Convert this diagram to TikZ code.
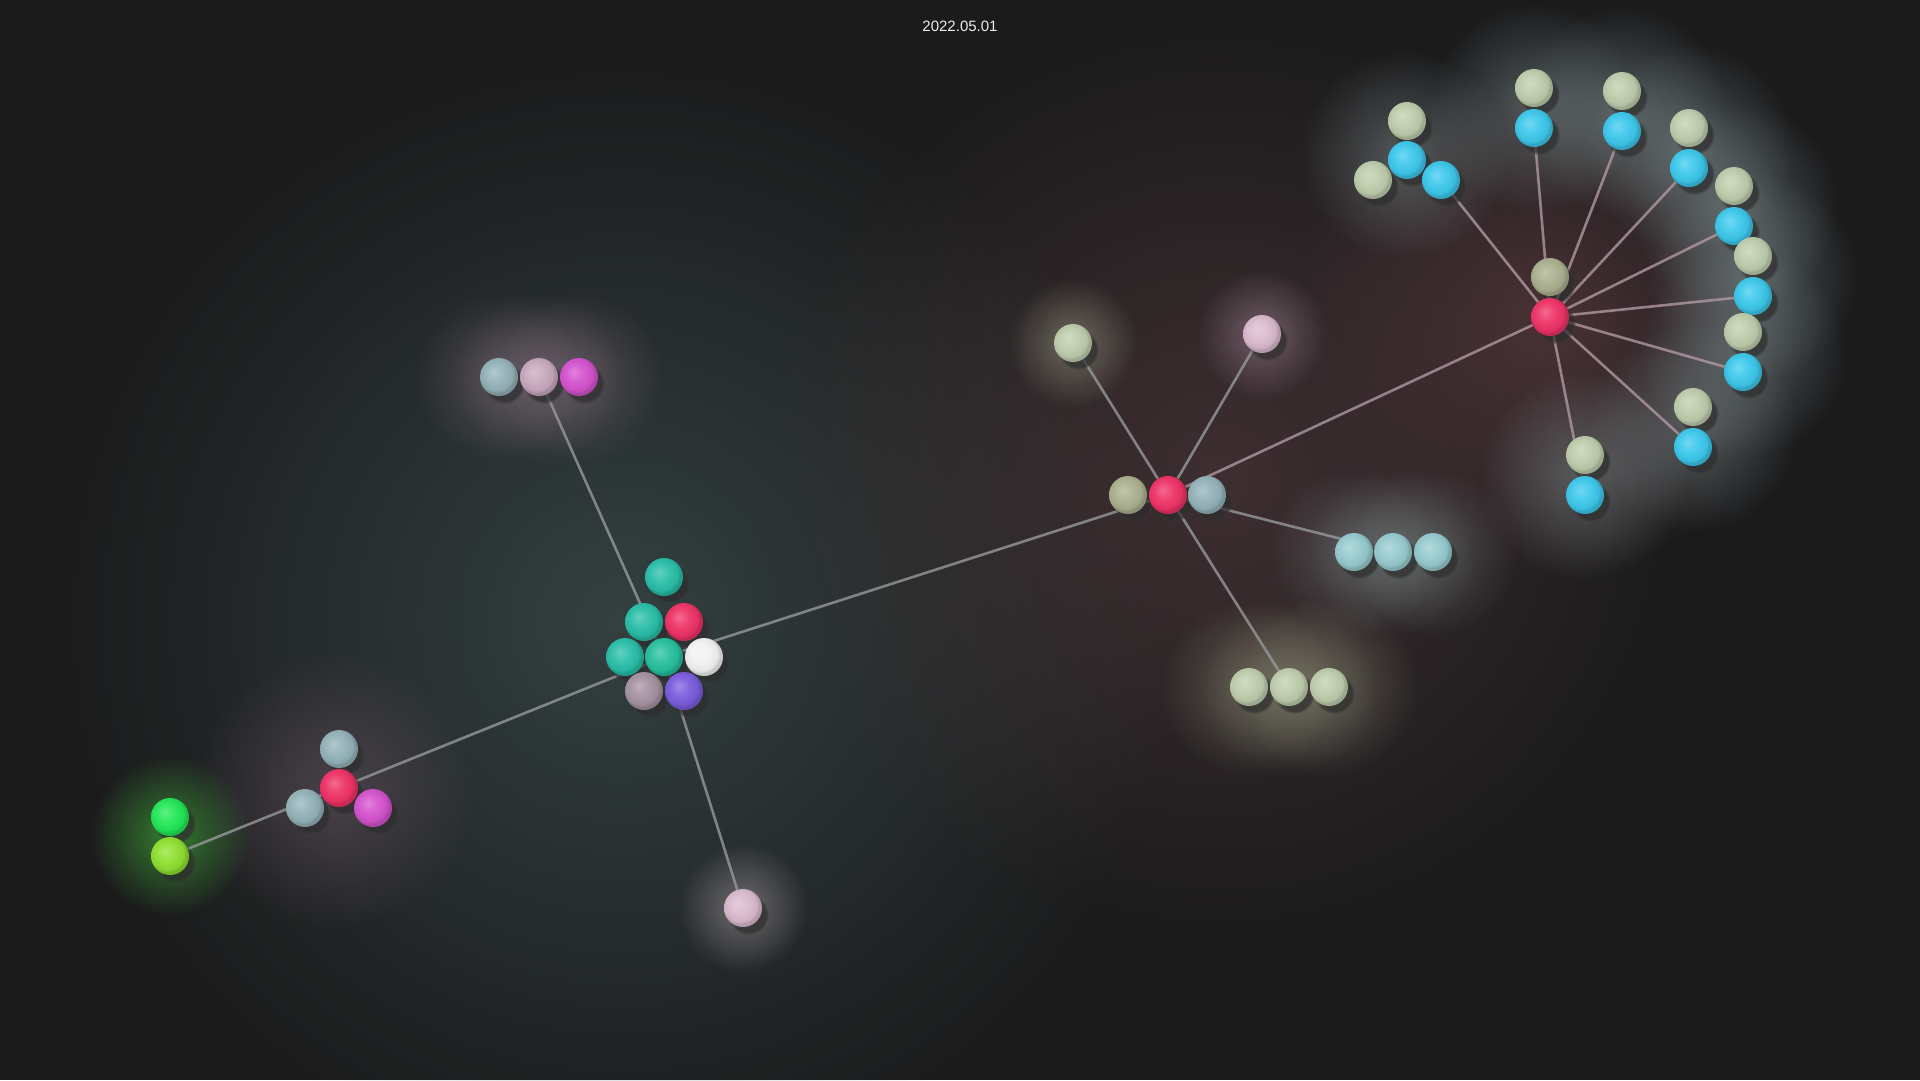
\documentclass[tikz,border=0pt]{standalone}
\usepackage{fontspec}
\setmainfont{Liberation Sans}
\usetikzlibrary{shadows,fadings}

\definecolor{bgdark}{RGB}{27,27,28}
\definecolor{cteal}{RGB}{40,190,168}
\definecolor{cmint}{RGB}{38,192,158}
\definecolor{cred}{RGB}{238,50,102}
\definecolor{cwhite}{RGB}{242,242,242}
\definecolor{cmauve}{RGB}{165,146,160}
\definecolor{cviolet}{RGB}{122,92,222}
\definecolor{cslate}{RGB}{146,178,184}
\definecolor{cice}{RGB}{150,202,206}
\definecolor{crose}{RGB}{200,168,190}
\definecolor{cmagenta}{RGB}{212,82,206}
\definecolor{cgreen}{RGB}{34,232,86}
\definecolor{clime}{RGB}{142,224,48}
\definecolor{cblush}{RGB}{218,186,206}
\definecolor{csage}{RGB}{190,205,172}
\definecolor{colive}{RGB}{170,176,142}
\definecolor{csky}{RGB}{60,200,236}
\definecolor{wire}{RGB}{150,153,155}
\definecolor{hubwire}{RGB}{176,152,162}
\definecolor{datetext}{RGB}{236,236,236}
% glow tints
\definecolor{tintteal}{RGB}{58,74,74}
\definecolor{tintbrown}{RGB}{72,52,55}
\definecolor{tintred}{RGB}{90,58,62}
\definecolor{tintarc}{RGB}{140,160,162}
\definecolor{tintplum}{RGB}{100,80,95}
\definecolor{tintgreen}{RGB}{70,190,60}
\definecolor{tintrose}{RGB}{130,110,125}
\definecolor{tintpale}{RGB}{160,150,156}
\definecolor{tintsage}{RGB}{170,170,145}
\definecolor{tintpink}{RGB}{175,145,165}
\definecolor{tintice}{RGB}{135,150,150}
\definecolor{tintolive}{RGB}{150,150,125}

\makeatletter
\pgfdeclareradialshading[tikz@ball]{softball}{\pgfqpoint{-7bp}{7bp}}{%
  color(0bp)=(tikz@ball!72!white); color(12bp)=(tikz@ball!93!white);
  color(22bp)=(tikz@ball!95!black); color(25bp)=(tikz@ball!82!black);
  color(50bp)=(tikz@ball!82!black)}
\makeatother

\tikzfading[name=glowfade, inner color=transparent!0, outer color=transparent!100]

\pgfdeclarelayer{back}
\pgfdeclarelayer{wires}
\pgfsetlayers{back,wires,main}

\tikzset{
  ball/.style={circle, minimum size=38pt, inner sep=0pt, ball color=#1, shading=softball,
    circular drop shadow={inner color=black, outer color=black, shadow xshift=5pt,
      shadow yshift=-6pt, opacity=0.45, shadow scale=1.08}},
  link/.style={line width=2.6pt, draw=wire, draw opacity=0.8},
  hublink/.style={link, draw=hubwire},
  haze/.style={fill=#1, path fading=glowfade},
}

\begin{document}
\begin{tikzpicture}[x=1pt,y=-1pt]
  \useasboundingbox (0,0) rectangle (1920,1080);
  \begin{pgfonlayer}{back}
    \fill[bgdark] (0,0) rectangle (1920,1080);
    % broad tints
    \fill[haze=tintteal, fill opacity=0.8] (620,620) circle (560);
    \fill[haze=tintbrown, fill opacity=0.8] (1220,480) circle (460);
    \fill[haze=tintred, fill opacity=0.7] (1550,320) circle (260);
    % halos
    \foreach \x/\y in {1534/108,1622/111,1689/148,1734/206,1753/276,1743/352,1693/427,1585/475,1405/155}
      \fill[haze=tintarc, fill opacity=0.45] (\x,\y) circle (105);
    \fill[haze=tintplum, fill opacity=0.6] (335,790) circle (140);
    \fill[haze=tintgreen, fill opacity=0.6] (170,836) circle (80);
    \foreach \x in {499,539,579}
      \fill[haze=tintrose, fill opacity=0.45] (\x,377) circle (85);
    \fill[haze=tintpale, fill opacity=0.6] (743,908) circle (65);
    \fill[haze=tintsage, fill opacity=0.5] (1073,343) circle (65);
    \fill[haze=tintpink, fill opacity=0.5] (1262,334) circle (65);
    \foreach \x in {1354,1393,1433}
      \fill[haze=tintice, fill opacity=0.35] (\x,552) circle (85);
    \foreach \x in {1249,1289,1329}
      \fill[haze=tintolive, fill opacity=0.4] (\x,687) circle (90);
  \end{pgfonlayer}

  \node[font=\fontsize{15}{18}\selectfont, text=datetext] (date) at (960,26) {2022.05.01};

  % central cluster
  \node[ball=cteal] (c1) at (664,577) {};
  \node[ball=cteal] (c2) at (644,622) {};
  \node[ball=cred] (c3) at (684,622) {};
  \node[ball=cteal] (c4) at (625,657) {};
  \node[ball=cmint] (c5) at (664,657) {};
  \node[ball=cwhite] (c6) at (704,657) {};
  \node[ball=cmauve] (c7) at (644,691) {};
  \node[ball=cviolet] (c8) at (684,691) {};

  % upper left
  \node[ball=cslate] (u1) at (499,377) {};
  \node[ball=crose] (u2) at (539,377) {};
  \node[ball=cmagenta] (u3) at (579,377) {};

  % lower left
  \node[ball=cslate] (l1) at (339,749) {};
  \node[ball=cred] (l2) at (339,788) {};
  \node[ball=cslate] (l3) at (305,808) {};
  \node[ball=cmagenta] (l4) at (373,808) {};
  \node[ball=cgreen] (g1) at (170,817) {};
  \node[ball=clime] (g2) at (170,856) {};

  \node[ball=cblush] (pk) at (743,908) {};

  % middle hub
  \node[ball=colive] (m1) at (1128,495) {};
  \node[ball=cred] (m2) at (1168,495) {};
  \node[ball=cslate] (m3) at (1207,495) {};
  \node[ball=csage] (t1) at (1073,343) {};
  \node[ball=cblush] (t2) at (1262,334) {};
  \foreach \x [count=\i] in {1354,1393,1433}
    \node[ball=cice] (s\i) at (\x,552) {};
  \foreach \x [count=\i] in {1249,1289,1329}
    \node[ball=csage] (y\i) at (\x,687) {};

  % right hub
  \node[ball=colive] (h0) at (1550,277) {};
  \node[ball=cred] (h) at (1550,317) {};
  \node[ball=csage] (q0) at (1407,121) {};
  \node[ball=csage] (q9) at (1373,180) {};
  \node[ball=csky] (k9) at (1407,160) {};
  \node[ball=csky] (k0) at (1441,180) {};
  \foreach \x/\y [count=\i] in {1534/128,1622/131,1689/168,1734/226,1753/296,1743/372,1693/447,1585/495}{
    \node[ball=csage] (q\i) at (\x,\y-40) {};
    \node[ball=csky] (k\i) at (\x,\y) {};
  }

  \begin{pgfonlayer}{wires}
    \draw[link] (g2) -- (l2);
    \draw[link] (l2) -- (c5);
    \draw[link] (u2) -- (c5);
    \draw[link] (c5) -- (pk);
    \draw[link] (c5) -- (m2);
    \draw[link] (m2) -- (t1);
    \draw[link] (m2) -- (t2);
    \draw[link] (m2) -- (s2);
    \draw[link] (m2) -- (y2);
    \draw[hublink] (m2) -- (h);
    \foreach \i in {0,...,8}
      \draw[hublink] (h) -- (k\i);
  \end{pgfonlayer}
\end{tikzpicture}
\end{document}
